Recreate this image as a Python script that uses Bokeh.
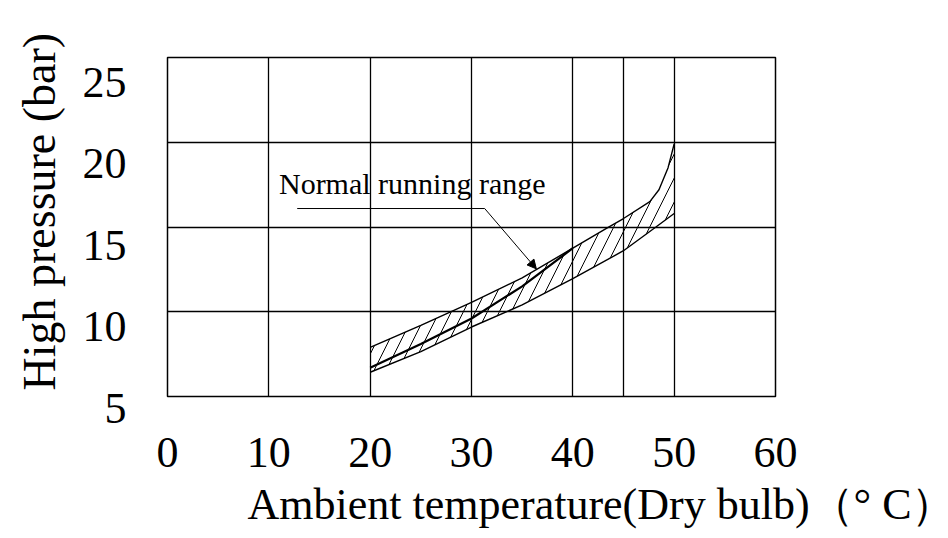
from bokeh.plotting import figure
from bokeh.models import (FixedTicker, Range1d, Label, LinearAxis, Title,
                          Arrow, NormalHead)
from bokeh.embed import file_html
from bokeh.resources import INLINE

# ---- data ----
x_ticks = [0, 10, 20, 30, 40, 50, 60]
x_grid = [10, 20, 30, 40, 45, 50]
y_ticks = [5, 10, 15, 20, 25]
y_grid = [10, 15, 20]

upper_t = [20, 25, 30, 35, 40, 43.4, 45, 47.6, 48.5, 49.4, 50]
upper_p = [7.9, 9.2, 10.55, 12.0, 13.75, 14.95, 15.5, 16.5, 17.2, 18.5, 19.9]
middle_t = [20, 25, 30, 35, 40]
middle_p = [6.69, 8.1, 9.6, 11.5, 13.75]
lower_t = [20, 25, 30, 35, 40, 45, 48.2, 50]
lower_p = [6.43, 7.65, 9.1, 10.4, 11.95, 13.6, 15.0, 15.8]

annot_text = "Normal running range"
annot_t, annot_p = 11.0, 17.55
leader_t = [12.8, 31.3, 36.4]
leader_p = [16.09, 16.09, 12.53]

x_title = "Ambient temperature(Dry bulb)（° C）"
y_title = "High pressure (bar)"

SERIF = "Liberation Serif"

p = figure(width=948, height=538, x_range=Range1d(0, 60), y_range=Range1d(5, 25),
           output_backend="svg", toolbar_location=None,
           min_border_left=167, min_border_right=173, min_border_top=57, min_border_bottom=142)
p.background_fill_color = "white"
p.border_fill_color = "white"
p.outline_line_color = "black"
p.outline_line_width = 1.5
p.outline_line_alpha = 1

# grid
p.xgrid.ticker = FixedTicker(ticks=x_grid)
p.ygrid.ticker = FixedTicker(ticks=y_grid)
for g in (p.xgrid, p.ygrid):
    g.grid_line_color = "black"
    g.grid_line_width = 1.3
    g.grid_line_alpha = 1

# x axis
p.yaxis.visible = False
xa = p.xaxis[0]
xa.ticker = FixedTicker(ticks=x_ticks)
xa.axis_line_color = None
xa.major_tick_line_color = None
xa.minor_tick_line_color = None
xa.major_label_standoff = 35
xa.major_label_text_font = SERIF
xa.major_label_text_font_size = "44px"
xa.major_label_text_color = "black"

# y tick labels: the drawing's labels sit on a slightly offset scale
p.extra_y_ranges = {"ylab": Range1d(4.36, 25.16)}
ya = LinearAxis(y_range_name="ylab", ticker=FixedTicker(ticks=y_ticks))
ya.axis_line_color = None
ya.major_tick_line_color = None
ya.minor_tick_line_color = None
ya.major_label_standoff = 35
ya.major_label_text_font = SERIF
ya.major_label_text_font_size = "44px"
ya.major_label_text_color = "black"
ya.major_label_text_line_height = 0.9
ya.major_label_overrides = {v: "\n" + str(v) for v in y_ticks}
p.add_layout(ya, "left")

# hatched band
band_x = upper_t + lower_t[::-1]
band_y = upper_p + lower_p[::-1]
p.patch(band_x, band_y, fill_color=None, line_color=None,
        hatch_pattern="/", hatch_color="black", hatch_scale=24, hatch_weight=1)

p.line(upper_t, upper_p, line_color="black", line_width=1.4)
p.line(middle_t, middle_p, line_color="black", line_width=2.2)
p.line(lower_t, lower_p, line_color="black", line_width=1.4)

# leader + annotation
p.line(leader_t[:2], leader_p[:2], line_color="black", line_width=1)
p.add_layout(Arrow(end=NormalHead(size=9, fill_color="black", line_color="black"),
                   x_start=leader_t[1], y_start=leader_p[1],
                   x_end=leader_t[2], y_end=leader_p[2],
                   line_color="black", line_width=1))
p.add_layout(Label(x=annot_t, y=annot_p, text=annot_text, text_font=SERIF,
                   text_font_size="30px", text_color="black", text_baseline="alphabetic"))

# axis titles
p.add_layout(Title(text=y_title, align="left", offset=6, standoff=25, vertical_align="top",
                   text_font=SERIF, text_font_size="46px", text_font_style="normal",
                   text_color="black"), "left")
p.add_layout(Title(text=x_title, align="left", offset=80, standoff=17,
                   text_font=SERIF, text_font_size="44px", text_font_style="normal",
                   text_color="black"), "below")

open("out.html", "w").write(file_html(p, INLINE))
